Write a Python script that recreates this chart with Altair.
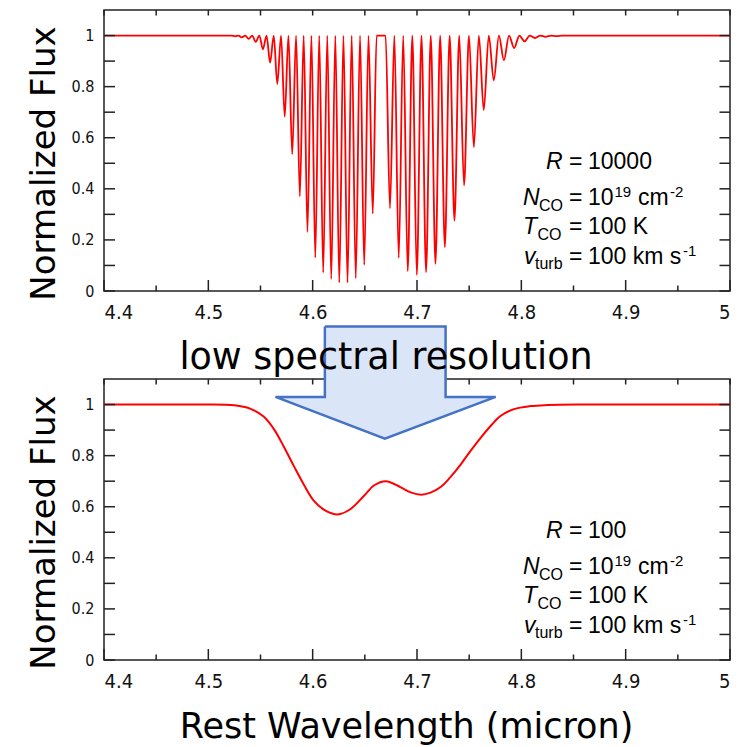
import altair as alt
import pandas as pd

# ---------------- data ----------------
# R = 10000 spectrum: CO v=1-0 line centres (micron) and their minimum flux
line_wl = [4.5256, 4.5321, 4.5387, 4.5454, 4.5523, 4.5592, 4.5661, 4.5732, 4.5804,
           4.5877, 4.5950, 4.6025, 4.6101, 4.6178, 4.6255, 4.6334, 4.6413, 4.6494,
           4.6576,
           4.6741, 4.6825, 4.6911, 4.6998, 4.7087, 4.7177, 4.7267, 4.7359, 4.7451,
           4.7545, 4.7640, 4.7736, 4.7833, 4.7931, 4.8031, 4.8131, 4.8233, 4.8337]
line_min = [0.997, 0.993, 0.987, 0.975, 0.946, 0.894, 0.810, 0.682, 0.535,
            0.371, 0.231, 0.131, 0.072, 0.047, 0.033, 0.033, 0.050, 0.102,
            0.303,
            0.324, 0.130, 0.078, 0.063, 0.074, 0.106, 0.172, 0.275, 0.414,
            0.563, 0.708, 0.824, 0.903, 0.951, 0.977, 0.990, 0.995, 0.998]
# continuum maxima between the lines
peak_wl = [4.40, 4.5223, 4.5289, 4.5354, 4.5421, 4.5489, 4.5558, 4.5627, 4.5697,
           4.5768, 4.5841, 4.5914, 4.5988, 4.6063, 4.6140, 4.6217, 4.6295, 4.6374,
           4.6454, 4.6535, 4.6613, 4.6699, 4.6783, 4.6868, 4.6955, 4.7043, 4.7132,
           4.7222, 4.7313, 4.7405, 4.7498, 4.7593, 4.7688, 4.7785, 4.7882, 4.7981,
           4.8081, 4.8182, 4.8285, 4.8389, 5.00]
peak_flux = [1.0, 1.0, 1.0, 1.0, 1.0, 1.0, 1.0, 1.0, 1.0,
             1.0, 1.0, 1.0, 1.0, 1.0, 1.0, 1.0, 1.0, 1.0,
             1.0, 1.0, 1.0, 1.0, 1.0, 1.0, 1.0, 1.0, 1.0,
             1.0, 1.0, 1.0, 1.0, 1.0, 1.0, 1.0, 1.0, 1.0,
             1.0, 1.0, 1.0, 1.0, 1.0]

# R = 100 spectrum
low_wl = [4.40, 4.49, 4.525, 4.540, 4.553, 4.563, 4.572, 4.582, 4.592, 4.601,
          4.611, 4.624, 4.636, 4.649, 4.659, 4.670, 4.684, 4.694, 4.704, 4.713,
          4.723, 4.732, 4.742, 4.751, 4.761, 4.771, 4.780, 4.793, 4.809, 4.825,
          4.857, 5.00]
low_flux = [1.0, 1.0, 0.997, 0.984, 0.953, 0.903, 0.838, 0.759, 0.683, 0.624,
            0.588, 0.570, 0.590, 0.642, 0.684, 0.700, 0.677, 0.656, 0.647, 0.655,
            0.678, 0.716, 0.766, 0.817, 0.870, 0.918, 0.955, 0.982, 0.994, 0.998,
            1.0, 1.0]

# axis tick values
x_major = [4.4, 4.5, 4.6, 4.7, 4.8, 4.9, 5.0]
x_minor = [4.45, 4.55, 4.65, 4.75, 4.85, 4.95]
y_major = [0.0, 0.1, 0.2, 0.3, 0.4, 0.5, 0.6, 0.7, 0.8, 0.9, 1.0]
y_labels = [0.0, 0.2, 0.4, 0.6, 0.8, 1.0]

# annotation arrow outline (in lower-panel data units)
arrow_x = [4.6117, 4.7274, 4.7274, 4.7754, 4.6692, 4.5644, 4.6117, 4.6117]
arrow_y = [1.306, 1.306, 1.030, 1.030, 0.866, 1.030, 1.030, 1.306]

# ---------------- layout constants ----------------
W, H = 626, 281
TICK_FONT = "Liberation Sans Narrow, DejaVu Sans Condensed, Arial Narrow, sans-serif"
TITLE_FONT = "DejaVu Sans"
ANN_FONT = "Liberation Sans"
FRAME = "#222222"

xs = alt.Scale(domain=[4.4, 5.0], nice=False, zero=False)
ys = alt.Scale(domain=[0, 1.1], nice=False, zero=False)

one = pd.DataFrame({"a": [0]})


def y_axis():
    return alt.Axis(values=y_labels, format="~g", title="Normalized Flux",
                    titleFont=TITLE_FONT, titleFontSize=34, titleFontWeight="normal",
                    titleAngle=270, titleAlign="center", titleBaseline="alphabetic",
                    titleX=-50, titleY=153, titleColor="#000",
                    labelFont=TICK_FONT, labelFontSize=16, labelColor="#111",
                    labelPadding=10, ticks=False, domain=False, grid=False)


def x_axis(with_title):
    kw = dict(values=x_major, format="~g", labelFont=TICK_FONT, labelFontSize=20,
              labelColor="#111", labelPadding=11, ticks=False, domain=False,
              grid=False)
    if with_title:
        kw.update(title="Rest Wavelength (micron)", titleFont=TITLE_FONT,
                  titleFontSize=35, titleFontWeight="normal", titleColor="#000",
                  titleBaseline="alphabetic", titleAlign="center",
                  titleX=302, titleY=77)
    else:
        kw.update(title="")
    return alt.Axis(**kw)


def frame_ticks(xax, yax):
    lay = []
    rule = dict(color=FRAME, strokeWidth=1.5)
    dmaj = pd.DataFrame({"wl": x_major})
    dmin = pd.DataFrame({"wl": x_minor})
    dy = pd.DataFrame({"flux": y_major})
    xe = alt.X("wl:Q", scale=xs, axis=xax)
    ye = alt.Y("flux:Q", scale=ys, axis=yax)
    lay.append(alt.Chart(dmaj).mark_rule(**rule).encode(x=xe, y=alt.value(H), y2=alt.value(H - 11)))
    lay.append(alt.Chart(dmin).mark_rule(**rule).encode(x=xe, y=alt.value(H), y2=alt.value(H - 5.5)))
    lay.append(alt.Chart(dmaj).mark_rule(**rule).encode(x=xe, y=alt.value(0), y2=alt.value(5.5)))
    lay.append(alt.Chart(dmin).mark_rule(**rule).encode(x=xe, y=alt.value(0), y2=alt.value(5.5)))
    lay.append(alt.Chart(dy).mark_rule(**rule).encode(y=ye, x=alt.value(0), x2=alt.value(11)))
    lay.append(alt.Chart(dy).mark_rule(**rule).encode(y=ye, x=alt.value(W), x2=alt.value(W - 10.5)))
    return lay


def annotations(rvalue):
    b1, b2, b3, b4 = 158.5, 195, 224, 253.5
    M, SUB, SUP = 23, 16, 15
    pieces = [
        ("R", 442, b1, M, "italic"), ("=", 465, b1, M, "normal"), (rvalue, 484, b1, M, "normal"),
        ("N", 419, b2, M, "italic"), ("CO", 435, b2 + 5.5, SUB, "normal"),
        ("=", 465, b2, M, "normal"), ("10", 484, b2, M, "normal"),
        ("19", 510.5, b2 - 8, SUP, "normal"), ("cm", 534, b2, M, "normal"),
        ("-2", 566, b2 - 8, SUP, "normal"),
        ("T", 419, b3, M, "italic"), ("CO", 433.5, b3 + 5.5, SUB, "normal"),
        ("=", 465, b3, M, "normal"), ("100 K", 484, b3, M, "normal"),
        ("v", 420, b4, M, "italic"), ("turb", 431, b4 + 5.5, SUB, "normal"),
        ("=", 465, b4, M, "normal"), ("100 km s", 484, b4, M, "normal"),
        ("-1", 579, b4 - 8, SUP, "normal"),
    ]
    return [
        alt.Chart(one).mark_text(text=t, font=ANN_FONT, fontSize=s, fontStyle=st,
                                 align="left", baseline="alphabetic", color="#000")
        .encode(x=alt.value(x), y=alt.value(y))
        for (t, x, y, s, st) in pieces
    ]


# ---------------- top panel (R = 10000) ----------------
xa_top, ya_top = x_axis(False), y_axis()
hi = pd.DataFrame({"wl": line_wl + peak_wl, "flux": line_min + peak_flux}).sort_values("wl")
top_line = alt.Chart(hi).mark_line(color="#ff0000", strokeWidth=1.8,
                                   interpolate="monotone").encode(
    x=alt.X("wl:Q", scale=xs, axis=xa_top),
    y=alt.Y("flux:Q", scale=ys, axis=ya_top),
)
top = alt.layer(top_line, *frame_ticks(xa_top, ya_top), *annotations("10000")).properties(
    width=W, height=H)

# ---------------- bottom panel (R = 100) ----------------
xa_bot, ya_bot = x_axis(True), y_axis()
lo = pd.DataFrame({"wl": low_wl, "flux": low_flux})
bot_line = alt.Chart(lo).mark_line(color="#ff0000", strokeWidth=2,
                                   interpolate="catmull-rom").encode(
    x=alt.X("wl:Q", scale=xs, axis=xa_bot),
    y=alt.Y("flux:Q", scale=ys, axis=ya_bot),
)
arrow_df = pd.DataFrame({"wl": arrow_x, "flux": arrow_y, "i": list(range(len(arrow_x)))})
arrow = alt.Chart(arrow_df).mark_line(fill="#dae5f7", stroke="#4472c4", strokeWidth=2.5,
                                      strokeJoin="miter", clip=False).encode(
    x=alt.X("wl:Q", scale=xs, axis=xa_bot),
    y=alt.Y("flux:Q", scale=ys, axis=ya_bot),
    order="i:Q",
)
label = alt.Chart(one).mark_text(text="low spectral resolution", font=TITLE_FONT,
                                 fontSize=36.5, align="center", baseline="alphabetic",
                                 color="#000").encode(x=alt.value(282), y=alt.value(-10))
bottom = alt.layer(bot_line, *frame_ticks(xa_bot, ya_bot), *annotations("100"),
                   arrow, label).properties(width=W, height=H)

chart = alt.vconcat(top, bottom, spacing=88, bounds="flush").properties(
    padding={"left": 26, "top": 8, "right": 0, "bottom": 0}
).configure_view(stroke=FRAME, strokeWidth=1.5)

chart.save("out.html", embed_options={"renderer": "svg", "actions": False})
